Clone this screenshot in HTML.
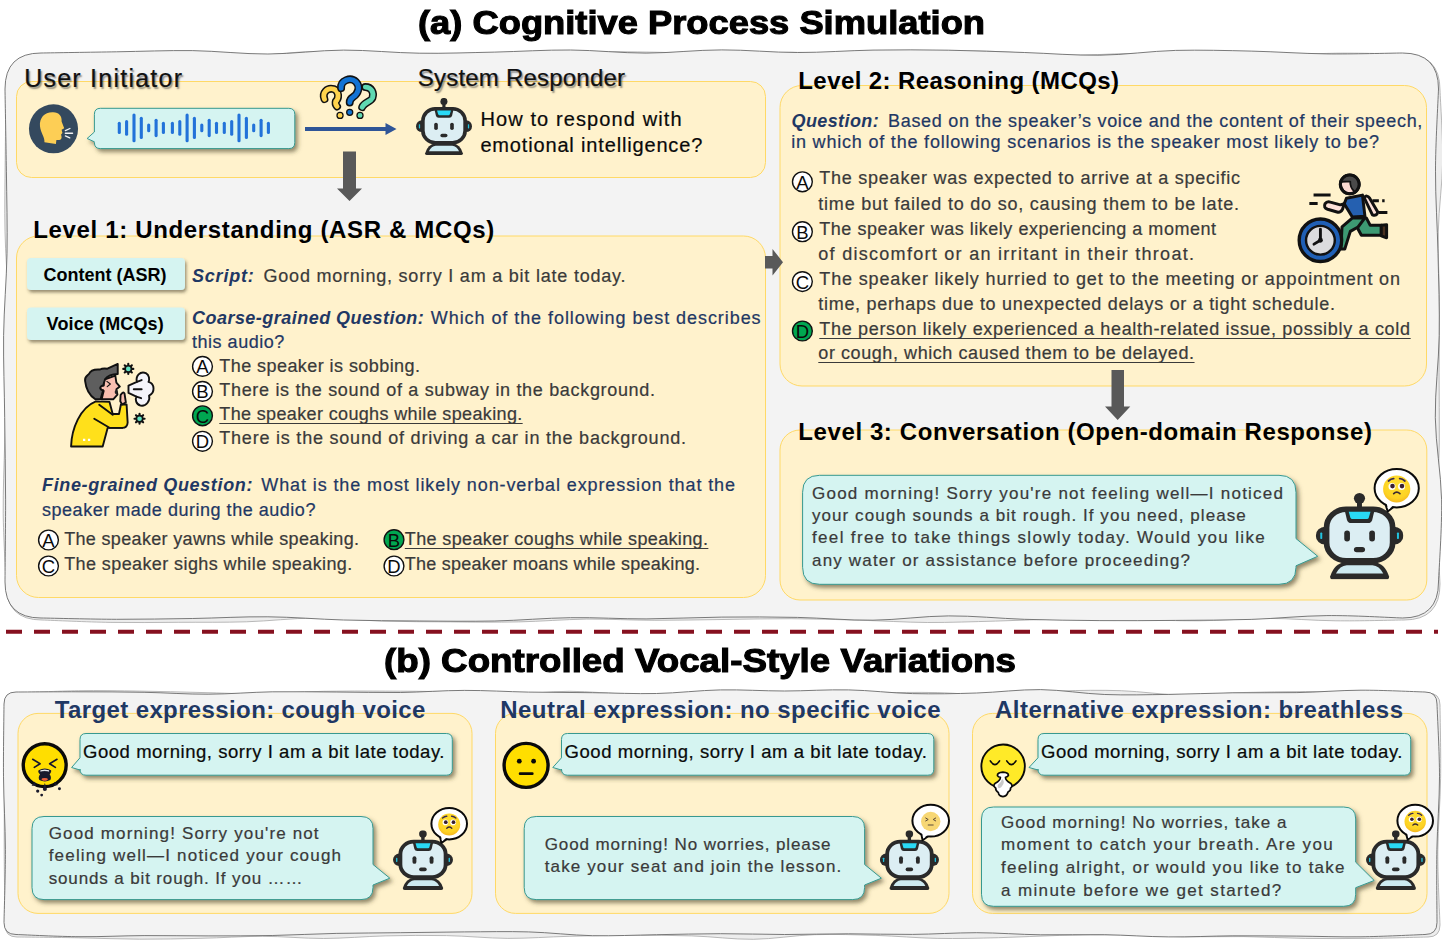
<!DOCTYPE html>
<html><head><meta charset="utf-8"><title>Cognitive Process Simulation</title>
<style>
html,body{margin:0;padding:0;background:#fff}
body{width:1442px;height:949px;position:relative;overflow:hidden;font-family:"Liberation Sans",sans-serif}
svg.bg{position:absolute;left:0;top:0}
.panel{fill:#f3f3f3;stroke:#6b6b6b;stroke-width:.9}
.panel2{fill:#ededed;stroke:#a8a8a8;stroke-width:.8}
.ybox{fill:#fff2cc;stroke:#ffd966;stroke-width:1}
.bub{fill:#d5f4f1;stroke:#37998f;stroke-width:1;filter:url(#sh)}
.btn{fill:#d5f4f1;filter:url(#sh2)}
.t{position:absolute;white-space:nowrap;line-height:1;color:#3a3a3a;margin:0;-webkit-text-stroke:.22px currentColor}
.ttl{font-weight:bold;color:#000;-webkit-text-stroke:1.1px #000;transform-origin:0 0}
.sh{color:#111;text-shadow:1.5px 1.5px 1.5px rgba(60,60,60,.55)}
.blk{color:#0a0a0a}
.hd{font-weight:bold;color:#000;-webkit-text-stroke:0}
.nv{color:#1f3864}
.hd.nv{color:#1f3864}
.bi{font-weight:bold;font-style:italic;color:#1f3864;-webkit-text-stroke:0}
.ul{text-decoration:underline;text-decoration-skip-ink:none;text-decoration-thickness:1.2px;text-underline-offset:2.5px}
.cl{position:absolute;width:20px;height:20px;line-height:20px;text-align:center;font-size:18.5px;color:#0a0a0a}
</style></head>
<body>
<svg class="bg" width="1442" height="949" viewBox="0 0 1442 949">
<defs>
<filter id="sh" x="-10%" y="-20%" width="125%" height="150%"><feDropShadow dx="2.5" dy="3" stdDeviation="2" flood-color="#4a4026" flood-opacity=".6"/></filter>
<filter id="sh2" x="-10%" y="-20%" width="125%" height="150%"><feDropShadow dx="1.5" dy="2.5" stdDeviation="1.6" flood-color="#4a4026" flood-opacity=".55"/></filter>
<radialGradient id="emg" cx=".5" cy=".35" r=".7"><stop offset="0" stop-color="#ffe033"/><stop offset=".7" stop-color="#fdd324"/><stop offset="1" stop-color="#f3ae1e"/></radialGradient>
<symbol id="robot" viewBox="0 0 708 725" preserveAspectRatio="none">
<circle cx="353" cy="45" r="45" fill="#2a2a2a"/>
<rect x="333" y="60" width="40" height="80" fill="#2a2a2a"/>
<path d="M75 258 a75 75 0 0 0 0 150Z" fill="#2a2a2a" transform="translate(0,25)"/>
<path d="M633 258 a75 75 0 0 1 0 150Z" fill="#2a2a2a" transform="translate(0,25)"/>
<rect x="36" y="332" width="16" height="54" rx="6" fill="#22c3de"/>
<rect x="656" y="332" width="16" height="54" rx="6" fill="#22c3de"/>
<rect x="87" y="137" width="534" height="431" rx="158" ry="152" fill="#dceef3" stroke="#2a2a2a" stroke-width="46"/>
<path d="M228 120H480L456 226Q449 252 422 252H286Q259 252 252 226Z" fill="#2a2a2a"/>
<path d="M266 158H442L428 208Q425 218 414 218H294Q283 218 280 208Z" fill="#29d9f5"/>
<rect x="230" y="315" width="46" height="92" rx="23" fill="#2a2a2a"/>
<rect x="432" y="315" width="46" height="92" rx="23" fill="#2a2a2a"/>
<rect x="308" y="453" width="90" height="44" rx="22" fill="#2a2a2a"/>
<path d="M116 700Q150 585 245 578H463Q558 585 592 700Q594 724 570 724H138Q114 724 116 700Z" fill="#2a2a2a"/>
<path d="M163 676Q195 612 250 607H458Q513 612 545 676Z" fill="#cdeaf1"/>
</symbol>
</defs>
<path class="panel2" d="M42.0 54.0C53.4 54.4 87.4 56.1 110.1 56.5C132.8 57.0 155.5 56.7 178.2 56.7C200.9 56.7 223.6 57.2 246.3 56.4C269.0 55.5 291.7 51.8 314.4 51.5C337.1 51.2 359.8 54.2 382.5 54.6C405.2 54.9 427.9 53.6 450.6 53.5C473.3 53.5 496.0 54.5 518.7 54.2C541.4 53.9 564.1 52.1 586.8 51.8C609.5 51.4 632.2 51.8 654.9 52.2C677.6 52.5 700.3 53.6 723.0 53.7C745.7 53.7 768.4 52.3 791.1 52.3C813.8 52.3 836.5 53.9 859.2 53.7C881.9 53.5 904.6 51.5 927.3 51.1C950.0 50.8 972.7 50.8 995.4 51.5C1018.1 52.2 1040.8 54.9 1063.5 55.3C1086.2 55.6 1108.9 53.7 1131.6 53.5C1154.3 53.3 1177.0 53.8 1199.7 54.1C1222.4 54.4 1245.1 55.6 1267.8 55.4C1290.5 55.3 1313.2 53.4 1335.9 53.2C1358.6 52.9 1392.7 53.9 1404.0 54.0Q1440.0 54.0 1440.0 90.0C1440.4 101.8 1442.9 137.0 1442.7 160.6C1442.4 184.1 1438.8 207.6 1438.3 231.1C1437.8 254.7 1439.3 278.2 1439.5 301.7C1439.6 325.2 1439.1 348.8 1439.1 372.3C1439.0 395.8 1439.6 419.3 1439.3 442.9C1439.0 466.4 1437.1 489.9 1437.2 513.4C1437.3 537.0 1439.5 572.2 1440.0 584.0Q1440.0 620.0 1404.0 620.0C1392.7 620.1 1358.6 621.1 1335.9 620.8C1313.2 620.6 1290.5 618.4 1267.8 618.4C1245.1 618.4 1222.4 620.6 1199.7 620.8C1177.0 621.0 1154.3 619.9 1131.6 619.6C1108.9 619.3 1086.2 618.8 1063.5 619.0C1040.8 619.3 1018.1 620.5 995.4 621.1C972.7 621.7 950.0 622.6 927.3 622.5C904.6 622.3 881.9 620.8 859.2 620.2C836.5 619.5 813.8 618.8 791.1 618.7C768.4 618.6 745.7 619.2 723.0 619.5C700.3 619.7 677.6 620.4 654.9 620.3C632.2 620.3 609.5 618.9 586.8 619.1C564.1 619.4 541.4 621.4 518.7 621.9C496.0 622.4 473.3 622.1 450.6 621.9C427.9 621.8 405.2 621.7 382.5 621.1C359.8 620.4 337.1 618.0 314.4 618.1C291.7 618.2 269.0 621.1 246.3 621.8C223.6 622.5 200.9 622.2 178.2 622.3C155.5 622.4 132.8 622.8 110.1 622.4C87.4 622.0 53.4 620.4 42.0 620.0Q6.0 620.0 6.0 584.0C5.5 572.2 3.5 537.0 3.2 513.4C3.0 489.9 4.1 466.4 4.7 442.9C5.2 419.3 5.9 395.8 6.4 372.3C7.0 348.8 8.2 325.2 7.9 301.7C7.7 278.2 5.4 254.7 5.0 231.1C4.5 207.6 5.0 184.1 5.2 160.6C5.4 137.0 5.9 101.8 6.0 90.0Q6.0 54.0 42.0 54.0Z"/>
<path class="panel" d="M41.0 53.0C53.6 52.8 91.4 52.2 116.6 51.8C141.9 51.4 167.1 50.3 192.3 50.6C217.5 51.0 242.7 54.1 267.9 54.0C293.1 53.9 318.3 50.2 343.6 50.1C368.8 50.0 394.0 52.9 419.2 53.2C444.4 53.6 469.6 52.6 494.8 52.1C520.0 51.5 545.3 49.8 570.5 50.0C595.7 50.2 620.9 53.1 646.1 53.1C671.3 53.0 696.5 49.9 721.8 49.9C747.0 49.8 772.2 52.5 797.4 52.5C822.6 52.6 847.8 50.5 873.0 50.1C898.2 49.7 923.5 49.8 948.7 50.2C973.9 50.6 999.1 51.7 1024.3 52.5C1049.5 53.3 1074.7 55.6 1099.9 55.2C1125.2 54.9 1150.4 51.1 1175.6 50.4C1200.8 49.8 1226.0 50.5 1251.2 51.1C1276.4 51.7 1301.6 53.6 1326.9 53.9C1352.1 54.2 1389.9 53.1 1402.5 53.0Q1438.5 53.0 1438.5 89.0C1438.0 102.7 1435.5 143.8 1435.5 171.2C1435.4 198.6 1437.4 225.9 1438.0 253.3C1438.6 280.7 1439.7 308.1 1439.2 335.5C1438.8 362.9 1434.9 390.3 1435.3 417.7C1435.7 445.1 1441.0 472.4 1441.6 499.8C1442.1 527.2 1439.0 568.3 1438.5 582.0Q1438.5 618.0 1402.5 618.0C1389.9 617.6 1352.1 615.3 1326.9 615.6C1301.6 615.8 1276.4 618.6 1251.2 619.4C1226.0 620.2 1200.8 620.2 1175.6 620.4C1150.4 620.6 1125.2 620.8 1099.9 620.6C1074.7 620.4 1049.5 620.1 1024.3 619.3C999.1 618.5 973.9 615.7 948.7 615.9C923.5 616.0 898.2 619.9 873.0 620.2C847.8 620.4 822.6 618.0 797.4 617.4C772.2 616.9 747.0 616.8 721.8 617.1C696.5 617.3 671.3 618.8 646.1 618.9C620.9 619.0 595.7 617.3 570.5 617.7C545.3 618.0 520.0 620.4 494.8 621.0C469.6 621.5 444.4 621.2 419.2 621.0C394.0 620.8 368.8 620.7 343.6 620.0C318.3 619.3 293.1 617.0 267.9 616.8C242.7 616.5 217.5 618.1 192.3 618.5C167.1 618.9 141.9 619.3 116.6 619.3C91.4 619.2 53.6 618.2 41.0 618.0Q5.0 618.0 5.0 582.0C5.1 568.3 5.6 527.2 5.6 499.8C5.5 472.4 5.0 445.1 4.7 417.7C4.4 390.3 3.3 362.9 3.6 335.5C4.0 308.1 6.5 280.7 7.0 253.3C7.5 225.9 6.7 198.6 6.4 171.2C6.0 143.8 5.2 102.7 5.0 89.0Q5.0 53.0 41.0 53.0Z"/>
<path class="panel2" d="M17.0 693.0C27.2 692.6 57.9 691.0 78.3 690.7C98.8 690.3 119.2 690.8 139.7 691.1C160.1 691.4 180.6 692.0 201.0 692.5C221.5 692.9 241.9 694.1 262.4 693.9C282.8 693.7 303.3 691.7 323.7 691.3C344.2 690.8 364.6 691.1 385.1 691.1C405.5 691.2 426.0 691.2 446.4 691.7C466.9 692.2 487.3 694.3 507.8 694.2C528.2 694.2 548.7 691.3 569.1 691.3C589.6 691.3 610.0 693.7 630.5 694.2C650.9 694.6 671.4 694.3 691.8 693.8C712.3 693.3 732.7 691.4 753.2 691.3C773.6 691.2 794.1 692.9 814.5 693.2C835.0 693.4 855.4 692.8 875.9 692.7C896.3 692.7 916.8 692.1 937.2 692.6C957.7 693.0 978.1 695.6 998.6 695.4C1019.0 695.1 1039.5 691.8 1059.9 691.0C1080.4 690.3 1100.8 690.0 1121.3 690.7C1141.7 691.4 1162.2 694.8 1182.6 695.1C1203.1 695.4 1223.5 693.1 1244.0 692.5C1264.4 691.9 1284.9 691.6 1305.3 691.6C1325.8 691.5 1346.2 691.9 1366.7 692.2C1387.1 692.4 1417.8 692.9 1428.0 693.0Q1440.0 693.0 1440.0 705.0C1440.1 717.2 1441.0 753.9 1440.6 778.3C1440.3 802.8 1437.9 827.2 1437.8 851.7C1437.7 876.1 1439.6 912.8 1440.0 925.0Q1440.0 937.0 1428.0 937.0C1417.8 937.2 1387.1 938.2 1366.7 938.4C1346.2 938.6 1325.8 938.7 1305.3 938.4C1284.9 938.1 1264.4 936.9 1244.0 936.6C1223.5 936.3 1203.1 937.1 1182.6 936.8C1162.2 936.5 1141.7 935.1 1121.3 934.8C1100.8 934.6 1080.4 934.9 1059.9 935.4C1039.5 935.9 1019.0 937.2 998.6 937.7C978.1 938.2 957.7 938.8 937.2 938.4C916.8 938.0 896.3 936.0 875.9 935.4C855.4 934.8 835.0 934.0 814.5 934.7C794.1 935.3 773.6 939.1 753.2 939.3C732.7 939.5 712.3 936.5 691.8 935.9C671.4 935.2 650.9 935.2 630.5 935.2C610.0 935.3 589.6 935.8 569.1 936.3C548.7 936.8 528.2 938.5 507.8 938.4C487.3 938.2 466.9 936.0 446.4 935.6C426.0 935.2 405.5 935.4 385.1 935.9C364.6 936.4 344.2 938.4 323.7 938.5C303.3 938.5 282.8 936.3 262.4 936.3C241.9 936.3 221.5 937.9 201.0 938.3C180.6 938.8 160.1 939.3 139.7 939.2C119.2 939.1 98.8 938.2 78.3 937.8C57.9 937.4 27.2 937.1 17.0 937.0Q5.0 937.0 5.0 925.0C4.9 912.8 4.3 876.1 4.2 851.7C4.1 827.2 4.4 802.8 4.5 778.3C4.6 753.9 4.9 717.2 5.0 705.0Q5.0 693.0 17.0 693.0Z"/>
<path class="panel" d="M16.0 692.0C26.7 692.0 58.7 691.7 80.0 691.8C101.4 691.8 122.7 691.9 144.1 692.3C165.4 692.7 186.8 694.3 208.1 694.2C229.5 694.1 250.8 692.2 272.2 691.8C293.5 691.5 314.9 691.9 336.2 692.0C357.6 692.1 378.9 692.7 400.3 692.5C421.6 692.2 443.0 690.4 464.3 690.4C485.7 690.3 507.0 691.7 528.4 692.1C549.7 692.4 571.1 692.4 592.4 692.7C613.8 692.9 635.1 694.0 656.5 693.5C677.8 693.1 699.2 690.3 720.5 689.9C741.8 689.5 763.2 691.0 784.5 691.0C805.9 691.0 827.2 689.4 848.6 689.9C869.9 690.3 891.3 693.1 912.6 693.6C934.0 694.1 955.3 693.7 976.7 693.0C998.0 692.3 1019.4 689.4 1040.7 689.6C1062.1 689.9 1083.4 693.7 1104.8 694.5C1126.1 695.3 1147.5 694.7 1168.8 694.4C1190.2 694.1 1211.5 693.1 1232.9 692.8C1254.2 692.5 1275.6 693.0 1296.9 692.6C1318.3 692.2 1339.6 690.3 1361.0 690.2C1382.3 690.1 1414.3 691.7 1425.0 692.0Q1437.0 692.0 1437.0 704.0C1437.4 716.1 1439.5 752.6 1439.5 776.8C1439.5 801.1 1437.3 825.4 1436.9 849.7C1436.4 873.9 1437.0 910.4 1437.0 922.5Q1437.0 934.5 1425.0 934.5C1414.3 934.9 1382.3 936.5 1361.0 936.8C1339.6 937.1 1318.3 936.3 1296.9 936.1C1275.6 936.0 1254.2 935.7 1232.9 935.8C1211.5 936.0 1190.2 937.1 1168.8 936.9C1147.5 936.8 1126.1 935.0 1104.8 934.7C1083.4 934.3 1062.1 935.1 1040.7 934.8C1019.4 934.5 998.0 932.8 976.7 932.7C955.3 932.7 934.0 934.2 912.6 934.4C891.3 934.6 869.9 933.8 848.6 933.8C827.2 933.8 805.9 934.5 784.5 934.5C763.2 934.5 741.8 933.6 720.5 933.7C699.2 933.7 677.8 934.4 656.5 934.7C635.1 935.1 613.8 936.1 592.4 935.7C571.1 935.2 549.7 932.5 528.4 931.9C507.0 931.3 485.7 931.8 464.3 931.9C443.0 932.1 421.6 932.5 400.3 932.7C378.9 933.0 357.6 933.0 336.2 933.4C314.9 933.9 293.5 935.0 272.2 935.5C250.8 935.9 229.5 935.9 208.1 935.9C186.8 935.9 165.4 935.5 144.1 935.6C122.7 935.7 101.4 936.9 80.0 936.7C58.7 936.6 26.7 934.9 16.0 934.5Q4.0 934.5 4.0 922.5C4.2 910.4 5.5 873.9 5.4 849.7C5.3 825.4 3.7 801.1 3.5 776.8C3.3 752.6 3.9 716.1 4.0 704.0Q4.0 692.0 16.0 692.0Z"/>
<rect class="ybox" x="16.5" y="81.5" width="749.0" height="96.0" rx="15.0"/>
<rect class="ybox" x="16.5" y="236.0" width="749.0" height="361.5" rx="22.0"/>
<rect class="ybox" x="780.0" y="85.5" width="646.5" height="300.5" rx="22.0"/>
<rect class="ybox" x="780.0" y="430.0" width="646.8" height="170.0" rx="20.0"/>
<rect class="ybox" x="18.0" y="713.4" width="454.0" height="200.0" rx="20.0"/>
<rect class="ybox" x="495.5" y="713.4" width="453.5" height="200.0" rx="20.0"/>
<rect class="ybox" x="972.5" y="713.4" width="454.5" height="200.0" rx="20.0"/>
<line x1="6" y1="631.7" x2="1438" y2="631.7" stroke="#86101f" stroke-width="4" stroke-dasharray="16 12"/>
<path fill="#2f5597" d="M305 127H385.5V123.1L396.5 129L385.5 134.9V131H305Z"/>
<path fill="#595959" d="M343.0 151.5H356.0V188.4H362.0L349.5 201.0L337.0 188.4H343.0Z"/>
<path fill="#595959" d="M1111.5 370.0H1124.0V406.4H1130.3L1117.7 420.0L1105.0 406.4H1111.5Z"/>
<path fill="#595959" d="M765 256H772.5V249L783 262.2L772.5 275.5V268.5H765Z"/>
<rect class="btn" x="27" y="258" width="158" height="32" rx="4"/>
<rect class="btn" x="27" y="307.6" width="158" height="32.4" rx="4"/>
<path class="bub" d="M100.4 108.3H288.8Q294.8 108.3 294.8 114.3V142.6Q294.8 148.6 288.8 148.6H100.4Q94.4 148.6 94.4 142.6V141.8 L87.1 138.5 L94.4 132.0V114.3Q94.4 108.3 100.4 108.3Z"/>
<path class="bub" d="M819.6 475.3H1279.0Q1296.0 475.3 1296.0 492.3V538.6 L1317.7 556.3 L1296.0 565.8V567.3Q1296.0 584.3 1279.0 584.3H819.6Q802.6 584.3 802.6 567.3V492.3Q802.6 475.3 819.6 475.3Z"/>
<path class="bub" d="M86.0 733.5H446.3Q452.3 733.5 452.3 739.5V769.2Q452.3 775.2 446.3 775.2H86.0Q80.0 775.2 80.0 769.2V770.0 L71.6 767.5 L80.0 757.8V739.5Q80.0 733.5 86.0 733.5Z"/>
<path class="bub" d="M567.5 733.5H927.8Q933.8 733.5 933.8 739.5V769.2Q933.8 775.2 927.8 775.2H567.5Q561.5 775.2 561.5 769.2V770.0 L552.8 767.5 L561.5 757.8V739.5Q561.5 733.5 567.5 733.5Z"/>
<path class="bub" d="M1044.0 733.5H1404.7Q1410.7 733.5 1410.7 739.5V769.2Q1410.7 775.2 1404.7 775.2H1044.0Q1038.0 775.2 1038.0 769.2V770.0 L1029.0 767.5 L1038.0 757.8V739.5Q1038.0 733.5 1044.0 733.5Z"/>
<path class="bub" d="M44.0 816.5H361.0Q373.0 816.5 373.0 828.5V864.5 L389.8 878.2 L373.0 885.0V887.6Q373.0 899.6 361.0 899.6H44.0Q32.0 899.6 32.0 887.6V828.5Q32.0 816.5 44.0 816.5Z"/>
<path class="bub" d="M536.2 816.5H852.6Q864.6 816.5 864.6 828.5V864.5 L881.4 878.2 L864.6 885.0V887.6Q864.6 899.6 852.6 899.6H536.2Q524.2 899.6 524.2 887.6V828.5Q524.2 816.5 536.2 816.5Z"/>
<path class="bub" d="M993.5 807.0H1343.7Q1355.7 807.0 1355.7 819.0V862.2 L1374.2 880.5 L1355.7 887.7V894.3Q1355.7 906.3 1343.7 906.3H993.5Q981.5 906.3 981.5 894.3V819.0Q981.5 807.0 993.5 807.0Z"/>
<line x1="119.3" y1="123.3" x2="119.3" y2="132.5" stroke="#2272d9" stroke-width="3.1" stroke-linecap="round"/>
<line x1="126.6" y1="121.6" x2="126.6" y2="134.2" stroke="#2272d9" stroke-width="3.1" stroke-linecap="round"/>
<line x1="134.0" y1="115.0" x2="134.0" y2="140.8" stroke="#2272d9" stroke-width="3.1" stroke-linecap="round"/>
<line x1="141.3" y1="118.3" x2="141.3" y2="137.5" stroke="#2272d9" stroke-width="3.1" stroke-linecap="round"/>
<line x1="148.7" y1="125.1" x2="148.7" y2="130.7" stroke="#2272d9" stroke-width="3.1" stroke-linecap="round"/>
<line x1="156.1" y1="120.2" x2="156.1" y2="135.6" stroke="#2272d9" stroke-width="3.1" stroke-linecap="round"/>
<line x1="163.4" y1="123.3" x2="163.4" y2="132.5" stroke="#2272d9" stroke-width="3.1" stroke-linecap="round"/>
<line x1="172.4" y1="123.3" x2="172.4" y2="132.5" stroke="#2272d9" stroke-width="3.1" stroke-linecap="round"/>
<line x1="179.8" y1="121.6" x2="179.8" y2="134.2" stroke="#2272d9" stroke-width="3.1" stroke-linecap="round"/>
<line x1="187.1" y1="115.0" x2="187.1" y2="140.8" stroke="#2272d9" stroke-width="3.1" stroke-linecap="round"/>
<line x1="194.4" y1="118.3" x2="194.4" y2="137.5" stroke="#2272d9" stroke-width="3.1" stroke-linecap="round"/>
<line x1="201.8" y1="125.1" x2="201.8" y2="130.7" stroke="#2272d9" stroke-width="3.1" stroke-linecap="round"/>
<line x1="209.2" y1="120.2" x2="209.2" y2="135.6" stroke="#2272d9" stroke-width="3.1" stroke-linecap="round"/>
<line x1="216.5" y1="123.3" x2="216.5" y2="132.5" stroke="#2272d9" stroke-width="3.1" stroke-linecap="round"/>
<line x1="224.3" y1="123.3" x2="224.3" y2="132.5" stroke="#2272d9" stroke-width="3.1" stroke-linecap="round"/>
<line x1="231.7" y1="121.6" x2="231.7" y2="134.2" stroke="#2272d9" stroke-width="3.1" stroke-linecap="round"/>
<line x1="239.0" y1="115.0" x2="239.0" y2="140.8" stroke="#2272d9" stroke-width="3.1" stroke-linecap="round"/>
<line x1="246.4" y1="118.3" x2="246.4" y2="137.5" stroke="#2272d9" stroke-width="3.1" stroke-linecap="round"/>
<line x1="253.7" y1="125.1" x2="253.7" y2="130.7" stroke="#2272d9" stroke-width="3.1" stroke-linecap="round"/>
<line x1="261.1" y1="120.2" x2="261.1" y2="135.6" stroke="#2272d9" stroke-width="3.1" stroke-linecap="round"/>
<line x1="268.4" y1="123.3" x2="268.4" y2="132.5" stroke="#2272d9" stroke-width="3.1" stroke-linecap="round"/>
<g transform="translate(20,95) scale(0.10403)"><circle cx="322" cy="325" r="236" fill="#34495e"/><path fill="#fdce55" d="M235 455 C240 400 200 370 192 300 C185 215 240 160 320 165 C375 168 405 200 400 255 L425 320 L400 335 L408 365 L395 380 L400 405 C400 430 380 435 350 432 L345 470 Z"/><g stroke="#f4f4f4" stroke-width="13" stroke-linecap="round"><line x1="436" y1="342" x2="480" y2="322"/><line x1="436" y1="368" x2="505" y2="368"/><line x1="436" y1="394" x2="478" y2="412"/></g></g>
<g transform="translate(300,65) scale(0.08427)" fill="none" stroke-linecap="round" stroke-linejoin="round"><path d="M775 262 C850 262 880 330 860 390 C840 440 760 440 738 500" stroke="#111" stroke-width="94"/><path d="M775 262 C850 262 880 330 860 390 C840 440 760 440 738 500" stroke="#5fd8b2" stroke-width="58"/><circle cx="712" cy="598" r="36" fill="#5fd8b2" stroke="#111" stroke-width="15"/><path d="M290 405 C260 330 320 265 400 285 C470 310 460 400 425 430 C415 460 430 480 440 492" stroke="#111" stroke-width="94"/><path d="M290 405 C260 330 320 265 400 285 C470 310 460 400 425 430 C415 460 430 480 440 492" stroke="#ffd34d" stroke-width="58"/><circle cx="475" cy="598" r="36" fill="#ffd34d" stroke="#111" stroke-width="15"/><path d="M488 275 C480 180 600 140 665 200 C720 260 690 340 630 380 C595 400 590 420 590 445" stroke="#111" stroke-width="94"/><path d="M488 275 C480 180 600 140 665 200 C720 260 690 340 630 380 C595 400 590 420 590 445" stroke="#1273d4" stroke-width="58"/><circle cx="590" cy="562" r="36" fill="#1273d4" stroke="#111" stroke-width="15"/></g>
<use href="#robot" x="416.0" y="97.9" width="56.0" height="57.3"/>
<g transform="translate(60,355) scale(0.10537)" stroke="#111" stroke-width="18" stroke-linejoin="round" stroke-linecap="round"><path fill="#ffe01b" d="M105 868 C110 700 190 500 340 440 L470 445 L500 560 L560 560 L578 470 L632 470 L642 640 Q640 690 590 692 L452 692 L405 868 Z"/><path fill="none" d="M372 472 L500 568"/><path fill="none" d="M325 605 L470 690 L590 692"/><path fill="#fff" stroke="none" d="M218 795h22v20h-22zM265 795h22v20h-22z"/><path fill="#f9bfb0" d="M415 235 L525 195 L535 262 L568 300 L535 325 L545 375 L505 420 L395 420 L415 340 Q378 335 382 305 Q392 285 415 290 Z"/><path fill="none" stroke-width="11" d="M445 250 L478 275 L448 300"/><ellipse cx="533" cy="352" rx="14" ry="20" fill="#222" stroke="none"/><path fill="#f9bfb0" d="M575 380 Q600 340 612 365 L625 450 L590 470 L572 440 Z"/><path fill="#5e5e5e" d="M238 245 C232 205 262 195 275 180 C290 140 340 135 380 138 C400 125 430 128 450 130 L548 85 L548 180 C500 182 450 200 428 228 L410 290 Q378 295 382 318 Q390 335 410 335 L385 418 L335 420 C275 380 245 310 238 245 Z"/><path fill="#f4f4fa" d="M650 290 L730 255 C715 200 760 150 815 172 C850 190 850 235 840 255 C900 270 905 360 845 385 C860 430 820 490 765 480 C720 470 712 420 725 395 L650 360 Z"/><path fill="none" d="M700 325 L775 325"/><path fill="none" d="M730 255 L775 238"/><path fill="none" d="M725 395 L770 410"/><g stroke-width="20"><line x1="678" y1="132" x2="696" y2="132"/><line x1="669" y1="153" x2="682" y2="166"/><line x1="648" y1="162" x2="648" y2="180"/><line x1="627" y1="153" x2="614" y2="166"/><line x1="618" y1="132" x2="600" y2="132"/><line x1="627" y1="111" x2="614" y2="98"/><line x1="648" y1="102" x2="648" y2="84"/><line x1="669" y1="111" x2="682" y2="98"/><circle cx="648" cy="132" r="30" fill="#62e3c2" stroke-width="16"/></g><g stroke-width="20"><line x1="785" y1="605" x2="803" y2="605"/><line x1="776" y1="626" x2="789" y2="639"/><line x1="755" y1="635" x2="755" y2="653"/><line x1="734" y1="626" x2="721" y2="639"/><line x1="725" y1="605" x2="707" y2="605"/><line x1="734" y1="584" x2="721" y2="571"/><line x1="755" y1="575" x2="755" y2="557"/><line x1="776" y1="584" x2="789" y2="571"/><circle cx="755" cy="605" r="30" fill="#62e3c2" stroke-width="16"/></g></g>
<g transform="translate(1285,165) scale(0.11068)" stroke="#111" stroke-width="27" stroke-linejoin="round" stroke-linecap="round"><path fill="none" stroke-linecap="butt" d="M258 270H412M220 348H295M790 322H848M878 322H900M845 430H925"/><path fill="#3d9a73" d="M640 478 L735 478 L770 545 L870 545 L870 635 L690 635 L650 560 Z"/><path fill="#4a3020" d="M870 545 L918 540 L918 658 L870 640 Z"/><path fill="#3d9a73" d="M610 478 L720 480 L660 560 L590 600 L540 760 L505 760 L515 560 Z"/><path fill="#fde1d9" d="M715 295 Q740 265 765 300 L838 425 Q830 465 790 450 Z"/><path fill="#2560b0" d="M555 300 L700 272 L722 462 L608 470 L535 350 Z"/><path fill="#fde1d9" d="M535 350 L520 400 Q500 435 470 425 L385 400 Q345 385 362 350 Q380 325 410 335 L500 360 Z"/><circle cx="585" cy="175" r="85" fill="#fbdad2"/><path fill="#4a4a4a" stroke="none" d="M505 160 A82 82 0 0 1 665 200 Q650 235 625 245 Q585 200 590 150 Z"/><path fill="none" stroke-width="16" d="M512 150 L590 150 Q585 200 628 240"/><circle cx="585" cy="175" r="85" fill="none"/><circle cx="320" cy="680" r="192" fill="#1f5fb5" stroke-width="30"/><circle cx="320" cy="680" r="130" fill="#dcdcde" stroke-width="22"/><path fill="none" stroke-width="26" d="M320 580V680L262 715"/><circle cx="320" cy="680" r="22" fill="#111" stroke="none"/></g>
<use href="#robot" x="1315.8" y="493.0" width="87.6" height="86.4"/>
<g><path d="M1385.2 503.2L1387.7 511.4L1394.0 506.6" fill="#fff" stroke="#0a0a0a" stroke-width="2" stroke-linejoin="round"/><ellipse cx="1396.7" cy="488.2" rx="22.1" ry="19.2" fill="#fff" stroke="#0a0a0a" stroke-width="2"/><path d="M1386.1 501.6L1388.3 509.8L1393.6 505.1Z" fill="#fff"/><circle cx="1396.7" cy="489.0" r="13.6" fill="url(#emg)"/><g transform="translate(1396.7,489.0) scale(1.000)"><circle cx="-4.7" cy="-2.6" r="3.5" fill="#fff"/><circle cx="4.8" cy="-2.6" r="3.5" fill="#fff"/><circle cx="-4.2" cy="-2.9" r="2.3" fill="#3a2030"/><circle cx="5.3" cy="-2.9" r="2.3" fill="#3a2030"/><path d="M-8.2 -8 Q-5.5 -10.5 -3 -10.3M8.2 -8 Q5.5 -10.5 3 -10.3" fill="none" stroke="#3a2a50" stroke-width="1.8" stroke-linecap="round"/><path d="M-3 4.6 Q0 1.8 3.2 4.6" fill="none" stroke="#3a2a30" stroke-width="1.7" stroke-linecap="round"/></g></g>
<g transform="translate(44.70,765.20) scale(0.07376) translate(-403,-400)"><circle cx="403" cy="400" r="291" fill="#ffde00" stroke="#0a0a0a" stroke-width="46"/><path d="M240 320L340 380L262 430M570 320L470 380L548 430" fill="none" stroke="#14142e" stroke-width="22" stroke-linecap="round" stroke-linejoin="round"/><path d="M320 470 Q403 420 490 470 Q500 500 470 525 Q500 560 480 600 Q403 640 330 600 Q310 560 340 525 Q305 500 320 470Z" fill="#1a1a2c"/><path d="M345 478 Q403 450 462 478 Q403 468 345 478Z" fill="#fff" stroke="#fff" stroke-width="10"/><ellipse cx="403" cy="592" rx="42" ry="20" fill="#f0603a"/><g fill="#1a1a2c"><circle cx="308" cy="750" r="22"/><circle cx="405" cy="722" r="28"/><circle cx="603" cy="720" r="20"/><circle cx="362" cy="805" r="19"/><path d="M225 680L270 620L285 680ZM385 700L405 640L425 700ZM530 625L585 670L540 680Z"/></g></g>
<g transform="translate(526.10,765.40)"><circle r="22" fill="#ffde00" stroke="#0a0a0a" stroke-width="3.4"/><circle cx="-6.8" cy="-4.2" r="2.4" fill="#0a0a0a"/><circle cx="7.5" cy="-4.2" r="2.4" fill="#0a0a0a"/><line x1="-6" y1="8.3" x2="6.2" y2="8.3" stroke="#0a0a0a" stroke-width="2.7" stroke-linecap="round"/></g>
<g transform="translate(1003.10,766.30) scale(0.08432) translate(-452,-430)" stroke-linecap="round" stroke-linejoin="round"><circle cx="452" cy="430" r="258" fill="#ffea28" stroke="#0a0a0a" stroke-width="22"/><path d="M300 365Q355 455 410 365M495 365Q550 455 605 365" fill="none" stroke="#0a0a0a" stroke-width="19"/><path d="M385 540 Q380 505 450 500 Q520 505 515 540 Q500 560 480 560 Q480 600 540 630 Q575 660 540 690 Q545 720 510 735 Q500 785 450 790 Q400 785 395 740 Q360 720 365 690 Q325 660 360 630 Q420 600 420 560 Q395 560 385 540Z" fill="#fff" stroke="#0a0a0a" stroke-width="20"/><path d="M440 580 Q470 600 455 640 Q430 690 400 690 Q380 680 390 650 Q430 620 440 580Z" fill="#c9c9c9"/></g>
<use href="#robot" x="393.0" y="830.3" width="60.0" height="59.7"/>
<use href="#robot" x="879.9" y="830.3" width="59.1" height="59.7"/>
<use href="#robot" x="1366.0" y="830.3" width="59.7" height="59.7"/>
<g><path d="M439.9 836.0L441.4 842.8L447.1 838.9" fill="#fff" stroke="#0a0a0a" stroke-width="2" stroke-linejoin="round"/><ellipse cx="449.2" cy="823.7" rx="17.8" ry="15.8" fill="#fff" stroke="#0a0a0a" stroke-width="2"/><path d="M440.7 834.8L442.0 841.2L446.7 837.6Z" fill="#fff"/><circle cx="449.2" cy="824.5" r="11.0" fill="url(#emg)"/><g transform="translate(449.2,824.5) scale(0.809)"><circle cx="-4.7" cy="-2.6" r="3.5" fill="#fff"/><circle cx="4.8" cy="-2.6" r="3.5" fill="#fff"/><circle cx="-4.2" cy="-2.9" r="2.3" fill="#3a2030"/><circle cx="5.3" cy="-2.9" r="2.3" fill="#3a2030"/><path d="M-8.2 -8 Q-5.5 -10.5 -3 -10.3M8.2 -8 Q5.5 -10.5 3 -10.3" fill="none" stroke="#3a2a50" stroke-width="1.8" stroke-linecap="round"/><path d="M-3 4.6 Q0 1.8 3.2 4.6" fill="none" stroke="#3a2a30" stroke-width="1.7" stroke-linecap="round"/></g></g>
<g><path d="M921.2 833.1L922.6 840.2L928.5 836.0" fill="#fff" stroke="#0a0a0a" stroke-width="2" stroke-linejoin="round"/><ellipse cx="930.7" cy="820.7" rx="18.3" ry="15.9" fill="#fff" stroke="#0a0a0a" stroke-width="2"/><path d="M921.9 831.8L923.2 838.6L928.1 834.7Z" fill="#fff"/><circle cx="930.7" cy="821.5" r="9.7" fill="#f7d774"/><g transform="translate(930.7,821.5)" fill="none" stroke="#5a4a3a" stroke-width="1" stroke-linecap="round"><path d="M-5 -3.5L-2.5 -2L-5 -0.6M5 -3.5L2.5 -2L5 -0.6M-2.5 3.5H2.5"/></g></g>
<g><path d="M1405.9 833.1L1407.7 839.8L1413.1 836.0" fill="#fff" stroke="#0a0a0a" stroke-width="2" stroke-linejoin="round"/><ellipse cx="1415.2" cy="820.7" rx="17.8" ry="15.9" fill="#fff" stroke="#0a0a0a" stroke-width="2"/><path d="M1406.7 831.8L1408.3 838.2L1412.7 834.7Z" fill="#fff"/><circle cx="1415.2" cy="821.5" r="10.7" fill="url(#emg)"/><g transform="translate(1415.2,821.5) scale(0.787)"><circle cx="-4.7" cy="-2.6" r="3.5" fill="#fff"/><circle cx="4.8" cy="-2.6" r="3.5" fill="#fff"/><circle cx="-4.2" cy="-2.9" r="2.3" fill="#3a2030"/><circle cx="5.3" cy="-2.9" r="2.3" fill="#3a2030"/><path d="M-8.2 -8 Q-5.5 -10.5 -3 -10.3M8.2 -8 Q5.5 -10.5 3 -10.3" fill="none" stroke="#3a2a50" stroke-width="1.8" stroke-linecap="round"/><path d="M-3 4.6 Q0 1.8 3.2 4.6" fill="none" stroke="#3a2a30" stroke-width="1.7" stroke-linecap="round"/></g></g>
<circle cx="202.5" cy="366.4" r="9.9" fill="#fff" stroke="#111" stroke-width="1.4"/>
<circle cx="202.5" cy="391.4" r="9.9" fill="#fff" stroke="#111" stroke-width="1.4"/>
<circle cx="202.5" cy="415.8" r="9.9" fill="#00a651" stroke="#111" stroke-width="1.4"/>
<circle cx="202.5" cy="441.3" r="9.9" fill="#fff" stroke="#111" stroke-width="1.4"/>
<circle cx="48.5" cy="540.0" r="9.9" fill="#fff" stroke="#111" stroke-width="1.4"/>
<circle cx="48.5" cy="566.0" r="9.9" fill="#fff" stroke="#111" stroke-width="1.4"/>
<circle cx="394.0" cy="539.7" r="9.9" fill="#00a651" stroke="#111" stroke-width="1.4"/>
<circle cx="394.0" cy="566.0" r="9.9" fill="#fff" stroke="#111" stroke-width="1.4"/>
<circle cx="802.4" cy="181.8" r="9.9" fill="#fff" stroke="#111" stroke-width="1.4"/>
<circle cx="802.4" cy="231.7" r="9.9" fill="#fff" stroke="#111" stroke-width="1.4"/>
<circle cx="802.4" cy="281.6" r="9.9" fill="#fff" stroke="#111" stroke-width="1.4"/>
<circle cx="802.4" cy="331.0" r="9.9" fill="#00a651" stroke="#111" stroke-width="1.4"/>
</svg>
<div class="t ttl" style="left:418.0px;top:6.24px;font-size:33.5px;transform:scaleX(1.0840);">(a) Cognitive Process Simulation</div>
<div class="t ttl" style="left:384.0px;top:644.44px;font-size:33.5px;transform:scaleX(1.0964);">(b) Controlled Vocal-Style Variations</div>
<div class="t sh" style="left:24.2px;top:65.64px;font-size:25px;letter-spacing:1.237px;">User Initiator</div>
<div class="t sh" style="left:417.8px;top:66.48px;font-size:24px;letter-spacing:0.207px;">System Responder</div>
<div class="t blk" style="left:480.4px;top:109.17px;font-size:20px;letter-spacing:1.111px;">How to respond with</div>
<div class="t blk" style="left:480.4px;top:135.17px;font-size:20px;letter-spacing:0.838px;">emotional intelligence?</div>
<div class="t hd" style="left:33.3px;top:218.48px;font-size:24px;letter-spacing:0.655px;">Level 1: Understanding (ASR &amp; MCQs)</div>
<div class="t hd" style="left:798.3px;top:69.38px;font-size:24px;letter-spacing:0.415px;">Level 2: Reasoning (MCQs)</div>
<div class="t hd" style="left:798.3px;top:420.48px;font-size:24px;letter-spacing:0.595px;">Level 3: Conversation (Open-domain Response)</div>
<div class="t hd" style="left:43.5px;top:265.76px;font-size:18px;letter-spacing:0.001px;">Content (ASR)</div>
<div class="t hd" style="left:46.6px;top:315.16px;font-size:18px;letter-spacing:0.128px;">Voice (MCQs)</div>
<div class="t bi" style="left:192.0px;top:267.26px;font-size:18px;letter-spacing:0.797px;">Script:</div>
<div class="t " style="left:263.5px;top:267.26px;font-size:18px;letter-spacing:0.785px;">Good morning, sorry I am a bit late today.</div>
<div class="t bi" style="left:192.0px;top:308.76px;font-size:18px;letter-spacing:0.468px;">Coarse-grained Question:</div>
<div class="t nv" style="left:430.8px;top:308.76px;font-size:18px;letter-spacing:0.935px;">Which of the following best describes</div>
<div class="t nv" style="left:192.0px;top:332.86px;font-size:18px;letter-spacing:0.522px;">this audio?</div>
<div class="t " style="left:219.3px;top:356.76px;font-size:18px;letter-spacing:0.436px;">The speaker is sobbing.</div>
<div class="t " style="left:219.3px;top:380.96px;font-size:18px;letter-spacing:0.676px;">There is the sound of a subway in the background.</div>
<div class="t ul" style="left:219.3px;top:405.06px;font-size:18px;letter-spacing:0.358px;">The speaker coughs while speaking.</div>
<div class="t " style="left:219.3px;top:428.86px;font-size:18px;letter-spacing:0.782px;">There is the sound of driving a car in the background.</div>
<div class="t bi" style="left:42.0px;top:475.86px;font-size:18px;letter-spacing:0.637px;">Fine-grained Question:</div>
<div class="t nv" style="left:261.3px;top:475.86px;font-size:18px;letter-spacing:0.896px;">What is the most likely non-verbal expression that the</div>
<div class="t nv" style="left:42.0px;top:500.86px;font-size:18px;letter-spacing:0.525px;">speaker made during the audio?</div>
<div class="t " style="left:64.2px;top:530.26px;font-size:18px;letter-spacing:0.333px;">The speaker yawns while speaking.</div>
<div class="t " style="left:64.2px;top:554.86px;font-size:18px;letter-spacing:0.404px;">The speaker sighs while speaking.</div>
<div class="t ul" style="left:404.8px;top:530.26px;font-size:18px;letter-spacing:0.364px;">The speaker coughs while speaking.</div>
<div class="t " style="left:404.8px;top:555.36px;font-size:18px;letter-spacing:0.251px;">The speaker moans while speaking.</div>
<div class="t bi" style="left:791.5px;top:111.76px;font-size:18px;letter-spacing:0.400px;">Question:</div>
<div class="t nv" style="left:888.0px;top:111.56px;font-size:18px;letter-spacing:0.695px;">Based on the speaker’s voice and the content of their speech,</div>
<div class="t nv" style="left:791.2px;top:132.76px;font-size:18px;letter-spacing:0.802px;">in which of the following scenarios is the speaker most likely to be?</div>
<div class="t " style="left:819.3px;top:169.46px;font-size:18px;letter-spacing:0.755px;">The speaker was expected to arrive at a specific</div>
<div class="t " style="left:818.3px;top:194.56px;font-size:18px;letter-spacing:0.785px;">time but failed to do so, causing them to be late.</div>
<div class="t " style="left:819.3px;top:220.26px;font-size:18px;letter-spacing:0.524px;">The speaker was likely experiencing a moment</div>
<div class="t " style="left:818.3px;top:245.16px;font-size:18px;letter-spacing:1.285px;">of discomfort or an irritant in their throat.</div>
<div class="t " style="left:819.3px;top:270.16px;font-size:18px;letter-spacing:0.852px;">The speaker likely hurried to get to the meeting or appointment on</div>
<div class="t " style="left:818.3px;top:295.16px;font-size:18px;letter-spacing:0.696px;">time, perhaps due to unexpected delays or a tight schedule.</div>
<div class="t ul" style="left:819.3px;top:319.96px;font-size:18px;letter-spacing:0.682px;">The person likely experienced a health-related issue, possibly a cold</div>
<div class="t ul" style="left:818.3px;top:344.46px;font-size:18px;letter-spacing:0.572px;">or cough, which caused them to be delayed.</div>
<div class="t " style="left:812.0px;top:484.71px;font-size:17px;letter-spacing:1.236px;">Good morning! Sorry you're not feeling well—I noticed</div>
<div class="t " style="left:812.0px;top:506.91px;font-size:17px;letter-spacing:1.059px;">your cough sounds a bit rough. If you need, please</div>
<div class="t " style="left:812.0px;top:529.21px;font-size:17px;letter-spacing:1.340px;">feel free to take things slowly today. Would you like</div>
<div class="t " style="left:812.0px;top:551.81px;font-size:17px;letter-spacing:1.175px;">any water or assistance before proceeding?</div>
<div class="t hd nv" style="left:54.8px;top:697.68px;font-size:24px;letter-spacing:0.377px;">Target expression: cough voice</div>
<div class="t hd nv" style="left:500.3px;top:697.68px;font-size:24px;letter-spacing:0.446px;">Neutral expression: no specific voice</div>
<div class="t hd nv" style="left:995.0px;top:697.68px;font-size:24px;letter-spacing:0.480px;">Alternative expression: breathless</div>
<div class="t blk" style="left:83.0px;top:742.64px;font-size:18.5px;letter-spacing:0.549px;">Good morning, sorry I am a bit late today.</div>
<div class="t blk" style="left:564.5px;top:742.64px;font-size:18.5px;letter-spacing:0.574px;">Good morning, sorry I am a bit late today.</div>
<div class="t blk" style="left:1041.0px;top:742.64px;font-size:18.5px;letter-spacing:0.549px;">Good morning, sorry I am a bit late today.</div>
<div class="t " style="left:48.7px;top:824.61px;font-size:17px;letter-spacing:1.147px;">Good morning! Sorry you're not</div>
<div class="t " style="left:48.7px;top:847.21px;font-size:17px;letter-spacing:1.191px;">feeling well—I noticed your cough</div>
<div class="t " style="left:48.7px;top:870.01px;font-size:17px;letter-spacing:0.863px;">sounds a bit rough. If you ……</div>
<div class="t " style="left:544.7px;top:836.41px;font-size:17px;letter-spacing:0.901px;">Good morning! No worries, please</div>
<div class="t " style="left:544.7px;top:858.21px;font-size:17px;letter-spacing:1.135px;">take your seat and join the lesson.</div>
<div class="t " style="left:1001.0px;top:813.81px;font-size:17px;letter-spacing:1.007px;">Good morning! No worries, take a</div>
<div class="t " style="left:1001.0px;top:836.41px;font-size:17px;letter-spacing:1.380px;">moment to catch your breath. Are you</div>
<div class="t " style="left:1001.0px;top:858.91px;font-size:17px;letter-spacing:1.233px;">feeling alright, or would you like to take</div>
<div class="t " style="left:1001.0px;top:881.71px;font-size:17px;letter-spacing:1.374px;">a minute before we get started?</div>
<div class="cl" style="left:192.5px;top:357.3px">A</div>
<div class="cl" style="left:192.5px;top:382.3px">B</div>
<div class="cl" style="left:192.5px;top:406.7px">C</div>
<div class="cl" style="left:192.5px;top:432.2px">D</div>
<div class="cl" style="left:38.5px;top:530.9px">A</div>
<div class="cl" style="left:38.5px;top:556.9px">C</div>
<div class="cl" style="left:384.0px;top:530.6px">B</div>
<div class="cl" style="left:384.0px;top:556.9px">D</div>
<div class="cl" style="left:792.4px;top:172.7px">A</div>
<div class="cl" style="left:792.4px;top:222.6px">B</div>
<div class="cl" style="left:792.4px;top:272.5px">C</div>
<div class="cl" style="left:792.4px;top:321.9px">D</div>
</body></html>
